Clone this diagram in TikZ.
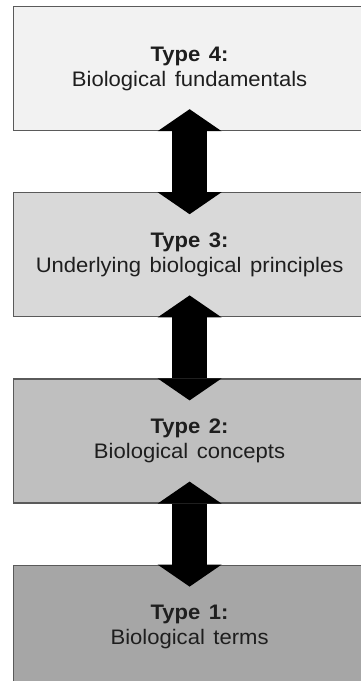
\documentclass[tikz,border=0pt]{standalone}
\usepackage{fontspec}
\setmainfont{Liberation Sans}[FakeStretch=1.05,WordSpace=1.4]
\usetikzlibrary{positioning,arrows.meta}
\definecolor{boxline}{HTML}{5A5A5A}
\definecolor{boxtext}{HTML}{1E1E1E}
\definecolor{shadefour}{HTML}{F2F2F2}
\definecolor{shadethree}{HTML}{D9D9D9}
\definecolor{shadetwo}{HTML}{BFBFBF}
\definecolor{shadeone}{HTML}{A6A6A6}
\begin{document}
\begin{tikzpicture}[x=1pt,y=1pt,
    typebox/.style={draw=boxline,line width=1.2pt,minimum width=352pt,minimum height=124pt,
        inner sep=0pt,align=center,text=boxtext,font=\fontsize{21}{25}\selectfont},
    link/.style={line width=35pt,{Triangle[length=22pt,width=64pt,line width=0pt]}-{Triangle[length=22pt,width=64pt,line width=0pt]}}]
\useasboundingbox (0,0) rectangle (361,-681);
\node[typebox,fill=shadefour,anchor=north west] (box4) at (13,-6) {\textbf{Type 4:}\\Biological fundamentals};
\node[typebox,fill=shadethree,below=61pt of box4] (box3) {\textbf{Type 3:}\\Underlying biological principles};
\node[typebox,fill=shadetwo,below=61pt of box3] (box2) {\textbf{Type 2:}\\Biological concepts};
\node[typebox,fill=shadeone,below=61pt of box2] (box1) {\textbf{Type 1:}\\Biological terms};
% two-way links
\draw[link] ([yshift=22pt]box4.south) -- ([yshift=-22pt]box3.north);
\draw[link] ([yshift=22pt]box3.south) -- ([yshift=-22pt]box2.north);
\draw[link] ([yshift=22pt]box2.south) -- ([yshift=-22pt]box1.north);
\end{tikzpicture}
\end{document}
